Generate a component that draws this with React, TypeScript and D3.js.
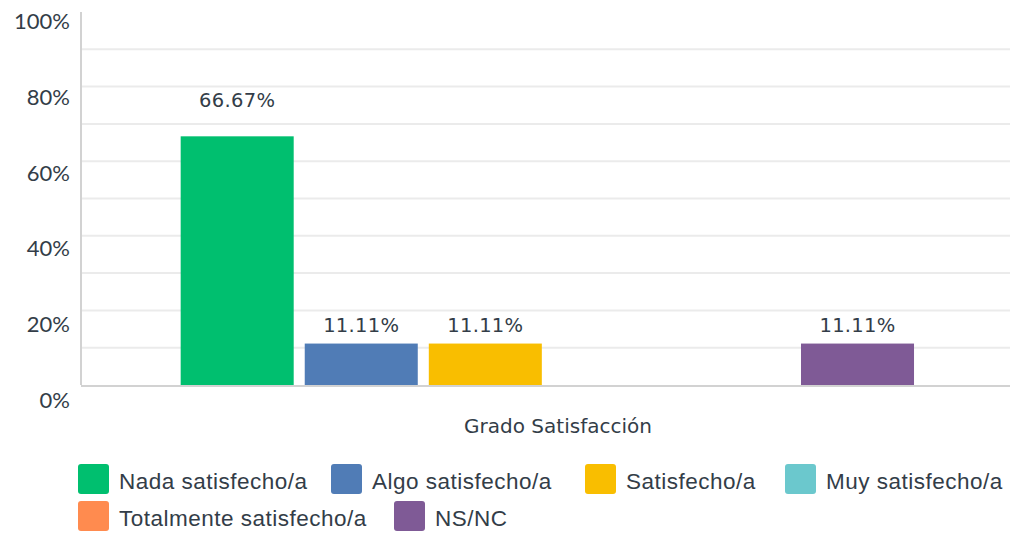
import React from "react";
import * as d3 from "d3";

const category = "Grado Satisfacción";
const seriesNames = [
  "Nada satisfecho/a",
  "Algo satisfecho/a",
  "Satisfecho/a",
  "Muy satisfecho/a",
  "Totalmente satisfecho/a",
  "NS/NC",
];
const seriesValues = [66.67, 11.11, 11.11, 0, 0, 11.11];
const seriesColors = ["#00bf6f", "#507cb6", "#f9be00", "#6bc8cd", "#ff8b4f", "#7f5a96"];
const yTickLabels = [0, 20, 40, 60, 80, 100];
const gridValues = [10, 20, 30, 40, 50, 60, 70, 80, 90];

const W = 1010;
const H = 533;
const plotLeft = 81;
const plotRight = 1010;
const plotTop = 12;
const plotBottom = 385;
const textColor = "#333d48";

// legend layout (row, x)
const legendLayout = [
  { row: 0, x: 78 },
  { row: 0, x: 331 },
  { row: 0, x: 585 },
  { row: 0, x: 785 },
  { row: 1, x: 78 },
  { row: 1, x: 394 },
];

export default function App() {
  const y = d3.scaleLinear().domain([0, 100]).range([plotBottom, plotTop]);
  const yLabel = d3.scaleLinear().domain([0, 100]).range([plotBottom + 23, plotTop + 17]);
  const x0 = d3
    .scaleBand<string>()
    .domain([category])
    .range([plotLeft, plotRight])
    .paddingInner(0)
    .paddingOuter(0.124)
    .align(0.51);
  const x1 = d3
    .scaleBand<string>()
    .domain(seriesNames)
    .range([0, x0.bandwidth()])
    .paddingInner(0.089)
    .paddingOuter(0.0445);
  const gx = x0(category) ?? 0;

  return (
    <svg width={W} height={H} style={{ position: "absolute", left: 0, top: 0, background: "#fff" }}>
      {gridValues.map((v) => (
        <line key={v} x1={plotLeft} x2={plotRight} y1={y(v)} y2={y(v)} stroke="#ebebeb" strokeWidth={2} />
      ))}
      <line x1={plotLeft} x2={plotLeft} y1={plotTop} y2={plotBottom} stroke="#d2d2d2" strokeWidth={2} />
      {yTickLabels.map((v) => (
        <text
          key={v}
          x={70}
          y={yLabel(v)}
          textAnchor="end"
          fontFamily="Lato"
          fontSize={22}
          fill={textColor}
        >
          {v}%
        </text>
      ))}
      {seriesNames.map((s, i) => {
        const v = seriesValues[i];
        if (v <= 0) return null;
        const bx = gx + (x1(s) ?? 0);
        const h = plotBottom - y(v);
        const gap = 8.5 + 0.085 * h;
        return (
          <g key={s}>
            <rect x={bx} y={y(v)} width={x1.bandwidth()} height={h} fill={seriesColors[i]} />
            <text
              x={bx + x1.bandwidth() / 2}
              y={y(v) - gap}
              textAnchor="middle"
              fontFamily="DejaVu Sans"
              fontSize={19.5}
              letterSpacing={0.3}
              fill={textColor}
            >
              {v.toFixed(2)}%
            </text>
          </g>
        );
      })}
      <line x1={plotLeft} x2={plotRight} y1={plotBottom + 1} y2={plotBottom + 1} stroke="#d2d2d2" strokeWidth={2} />
      <text
        x={558}
        y={433}
        textAnchor="middle"
        fontFamily="DejaVu Sans"
        fontSize={20}
        fill={textColor}
      >
        {category}
      </text>
      {seriesNames.map((s, i) => {
        const L = legendLayout[i];
        const top = 464 + L.row * 37;
        return (
          <g key={s}>
            <rect x={L.x} y={top} width={31} height={30} rx={3} fill={seriesColors[i]} />
            <text
              x={L.x + 41}
              y={top + 25}
              fontFamily="Liberation Sans"
              fontSize={22.5}
              letterSpacing={0.5}
              fill={textColor}
            >
              {s}
            </text>
          </g>
        );
      })}
    </svg>
  );
}
